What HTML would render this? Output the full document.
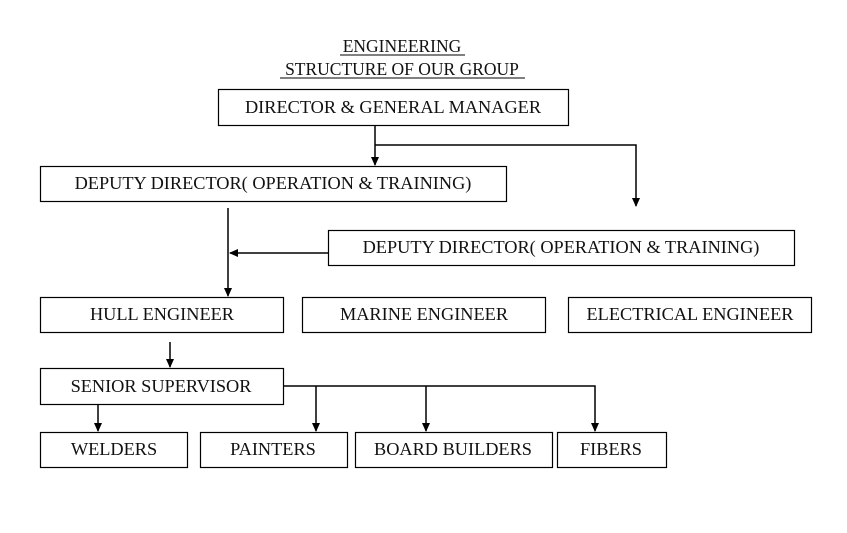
<!DOCTYPE html>
<html><head><style>
body{margin:0;background:#fff;}
svg text{font-family:"Liberation Serif",serif;font-size:18.3px;fill:#111;}
</style></head><body>
<svg width="847" height="528" viewBox="0 0 847 528" xmlns="http://www.w3.org/2000/svg">
<defs><marker id="a" markerWidth="10" markerHeight="10" refX="8" refY="5" orient="auto" markerUnits="userSpaceOnUse"><path d="M0,1 L9,5 L0,9 z" fill="#000"/></marker></defs>
<g text-anchor="middle">
<text x="402" y="52" style="font-size:17.5px">ENGINEERING</text>
<line x1="340" y1="55" x2="465" y2="55" stroke="#000"/>
<text x="402" y="75" style="font-size:17.5px">STRUCTURE OF OUR GROUP</text>
<line x1="280" y1="78" x2="525" y2="78" stroke="#000"/>
</g>
<g fill="none" stroke="#000" stroke-width="1.2">
<rect x="218.5" y="89.5" width="350" height="36"/>
<rect x="40.5" y="166.5" width="466" height="35"/>
<rect x="328.5" y="230.5" width="466" height="35"/>
<rect x="40.5" y="297.5" width="243" height="35"/>
<rect x="302.5" y="297.5" width="243" height="35"/>
<rect x="568.5" y="297.5" width="243" height="35"/>
<rect x="40.5" y="368.5" width="243" height="36"/>
<rect x="40.5" y="432.5" width="147" height="35"/>
<rect x="200.5" y="432.5" width="147" height="35"/>
<rect x="355.5" y="432.5" width="197" height="35"/>
<rect x="557.5" y="432.5" width="109" height="35"/>
</g>
<g stroke="#000" stroke-width="1.5" fill="none">
<line x1="375" y1="126" x2="375" y2="165" marker-end="url(#a)"/>
<polyline points="375,145 636,145 636,206" marker-end="url(#a)"/>
<line x1="228" y1="208" x2="228" y2="296" marker-end="url(#a)"/>
<line x1="328" y1="253" x2="230" y2="253" marker-end="url(#a)"/>
<line x1="170" y1="342" x2="170" y2="367" marker-end="url(#a)"/>
<polyline points="284,386 595,386 595,431" marker-end="url(#a)"/>
<line x1="316" y1="386" x2="316" y2="431" marker-end="url(#a)"/>
<line x1="426" y1="386" x2="426" y2="431" marker-end="url(#a)"/>
<line x1="98" y1="405" x2="98" y2="431" marker-end="url(#a)"/>
</g>
<g text-anchor="middle">
<text x="393" y="113">DIRECTOR &amp; GENERAL MANAGER</text>
<text x="273" y="189">DEPUTY DIRECTOR( OPERATION &amp; TRAINING)</text>
<text x="561" y="253">DEPUTY DIRECTOR( OPERATION &amp; TRAINING)</text>
<text x="162" y="320">HULL ENGINEER</text>
<text x="424" y="320">MARINE ENGINEER</text>
<text x="690" y="320">ELECTRICAL ENGINEER</text>
<text x="161" y="392">SENIOR SUPERVISOR</text>
<text x="114" y="455">WELDERS</text>
<text x="273" y="455">PAINTERS</text>
<text x="453" y="455">BOARD BUILDERS</text>
<text x="611" y="455">FIBERS</text>
</g>
</svg>
</body></html>
